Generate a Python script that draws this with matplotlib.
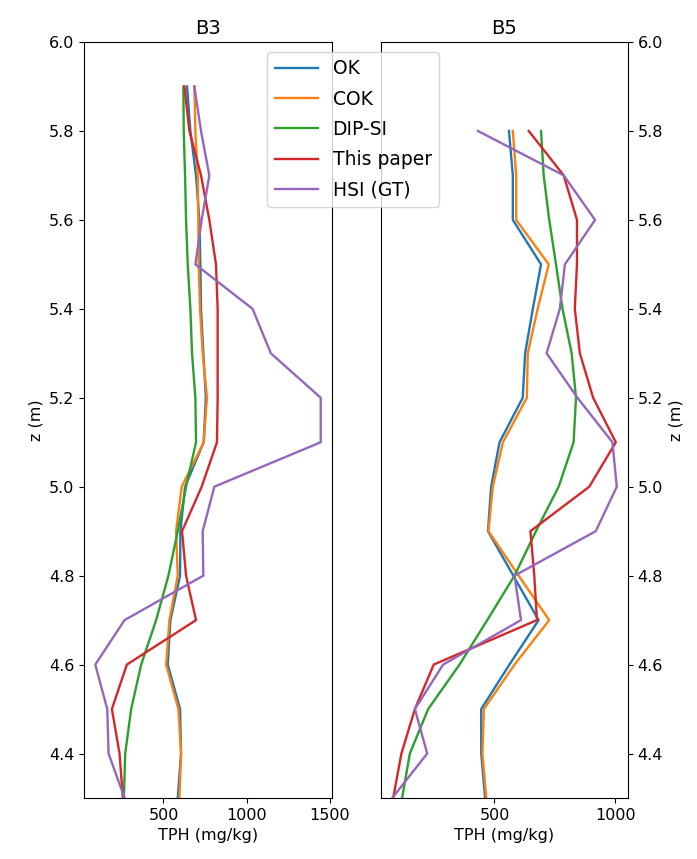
import numpy as np
import matplotlib
matplotlib.use("Agg")
import matplotlib.pyplot as plt

# depth (m)
z_b3 = [5.9, 5.8, 5.7, 5.6, 5.5, 5.4, 5.3, 5.2, 5.1, 5.0, 4.9, 4.8, 4.7, 4.6, 4.5, 4.4, 4.3]
z_b5 = [5.8, 5.7, 5.6, 5.5, 5.4, 5.3, 5.2, 5.1, 5.0, 4.9, 4.8, 4.7, 4.6, 4.5, 4.4, 4.3]

# B3 TPH (mg/kg)
b3_ok = [642, 662, 696, 716, 722, 726, 740, 755, 742, 630, 602, 600, 542, 526, 600, 606, 586]
b3_cok = [686, 692, 706, 710, 712, 720, 736, 762, 742, 610, 576, 586, 536, 516, 590, 606, 596]
b3_dip = [620, 622, 630, 636, 646, 662, 672, 692, 696, 636, 586, 530, 456, 366, 306, 270, 262]
b3_ours = [626, 656, 726, 776, 816, 826, 826, 826, 822, 730, 612, 636, 696, 280, 190, 236, 256]
b3_hsi = [686, 726, 776, 730, 692, 1036, 1146, 1446, 1446, 806, 736, 740, 266, 90, 162, 170, 266]

# B5 TPH (mg/kg)
b5_ok = [560, 576, 576, 693, 659, 627, 617, 521, 486, 473, 578, 683, 562, 445, 445, 461]
b5_cok = [576, 590, 590, 725, 679, 638, 634, 535, 493, 475, 600, 727, 583, 456, 450, 466]
b5_dip = [693, 704, 727, 755, 782, 820, 838, 828, 766, 672, 583, 470, 355, 225, 149, 117]
b5_ours = [642, 787, 842, 842, 833, 854, 909, 1003, 893, 649, 665, 676, 248, 170, 114, 80]
b5_hsi = [431, 787, 917, 792, 771, 716, 844, 989, 1007, 920, 583, 610, 287, 170, 221, 76]

labels = ["OK", "COK", "DIP-SI", "This paper", "HSI (GT)"]

plt.rcParams["font.size"] = 11.5

fig = plt.figure(figsize=(6.97, 8.59), dpi=100)
ax1 = fig.add_axes([84 / 697, 1 - 798 / 859, 248 / 697, 756 / 859])
ax2 = fig.add_axes([381 / 697, 1 - 798 / 859, 247 / 697, 756 / 859], sharey=ax1)

for ax, z, series in [
    (ax1, z_b3, [b3_ok, b3_cok, b3_dip, b3_ours, b3_hsi]),
    (ax2, z_b5, [b5_ok, b5_cok, b5_dip, b5_ours, b5_hsi]),
]:
    for vals, lab in zip(series, labels):
        ax.plot(vals, z, label=lab, linewidth=1.7)
    ax.set_xlabel("TPH (mg/kg)")
    ax.set_ylabel("z (m)")

ax1.set_title("B3", fontsize=14)
ax2.set_title("B5", fontsize=14)
ax1.set_ylim(4.3, 6.0)
ax1.set_yticks([4.4, 4.6, 4.8, 5.0, 5.2, 5.4, 5.6, 5.8, 6.0])
ax1.set_xticks([500, 1000, 1500])
ax2.set_xticks([500, 1000])

ax2.yaxis.tick_right()
ax2.yaxis.set_label_position("right")

handles, labs = ax1.get_legend_handles_labels()
fig.legend(handles, labs, loc="upper left", fontsize=13.5, handlelength=2.3,
           labelspacing=0.6,
           bbox_to_anchor=(267 / 697, 1 - 52 / 859), borderaxespad=0)

fig.savefig("out.png", dpi=100)
